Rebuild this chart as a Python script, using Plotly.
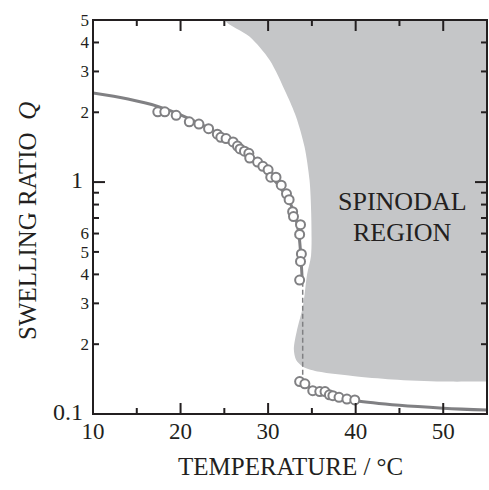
import plotly.graph_objects as go
import math

# ---- data ----
temp_swollen = [17.4, 18.2, 19.5, 21.0, 22.1, 23.2, 24.2, 24.6, 25.2, 26.0, 26.5, 26.8,
                27.3, 27.8, 27.9, 28.8, 29.4, 30.0, 30.3, 30.9, 31.5, 32.1, 32.4, 32.8,
                32.9, 33.7, 33.6, 33.8, 33.7, 33.6]
q_swollen = [2.01, 2.01, 1.94, 1.82, 1.78, 1.70, 1.61, 1.56, 1.54, 1.49, 1.43, 1.39,
             1.36, 1.33, 1.27, 1.22, 1.17, 1.13, 1.05, 1.05, 0.97, 0.89, 0.84, 0.745,
             0.71, 0.655, 0.595, 0.49, 0.455, 0.378]
temp_collapsed = [33.6, 34.2, 35.1, 35.9, 36.5, 37.0, 37.4, 38.1, 39.0, 39.9]
q_collapsed = [0.138, 0.135, 0.126, 0.125, 0.125, 0.121, 0.120, 0.118, 0.116, 0.115]

theory_temp_up = [10, 14, 17.4, 20, 22, 24, 26, 28, 29.5, 30.8, 31.8, 32.6, 33.2, 33.55, 33.75, 33.9]
theory_q_up = [2.42, 2.28, 2.12, 1.95, 1.80, 1.64, 1.47, 1.28, 1.14, 1.01, 0.90, 0.80, 0.69, 0.58, 0.47, 0.375]
theory_temp_low = [33.95, 35, 37, 40, 45, 50, 55]
theory_q_low = [0.138, 0.128, 0.120, 0.114, 0.109, 0.106, 0.104]
transition_temp = [33.95, 33.95]
transition_q = [0.372, 0.140]

spin_temp = [24.5, 25.0, 27.9, 30.17, 32.07, 33.2, 34.16, 34.73, 34.92, 34.9, 34.45,
             33.97, 33.3, 32.94, 33.2, 33.97, 35.87, 39.66, 44.2, 49.9, 55, 58, 58, 24]
spin_q = [6.0, 5.0, 4.23, 3.36, 2.41, 1.91, 1.42, 1.02, 0.735, 0.48, 0.40,
          0.29, 0.23, 0.19, 0.171, 0.160, 0.152, 0.146, 0.141, 0.138, 0.138, 0.138, 8, 8]

x_ticks = [10, 15, 20, 25, 30, 35, 40, 45, 50]
x_tick_text = ["10", "", "20", "", "30", "", "40", "", "50"]
x_major = [10, 20, 30, 40, 50]
y_ticks = [0.1, 0.2, 0.3, 0.4, 0.5, 0.6, 0.7, 0.8, 0.9, 1, 2, 3, 4, 5]
y_tick_text = ["0.1", "2", "3", "4", "5", "6", "", "", "", "1", "2", "3", "4", "5"]
y_big_labels = ["0.1", "1"]
y_major = [1]

SERIF = "Liberation Serif, Times New Roman, serif"
GRAY = "#808083"
FILL = "#c5c6c8"
INK = "#231f20"
PLOT_PX = 394.0  # plot area is 394 x 394 px


def y_label(t):
    if not t:
        return ""
    if t in y_big_labels:
        return f'<span style="font-size:24px">{t}&nbsp;</span>'
    return t


fig = go.Figure()
fig.add_trace(go.Scatter(x=spin_temp, y=spin_q, mode="lines", fill="toself",
                         fillcolor=FILL, line=dict(width=0, shape="spline", smoothing=0.8),
                         hoverinfo="skip", showlegend=False))
fig.add_trace(go.Scatter(x=theory_temp_up, y=theory_q_up, mode="lines",
                         line=dict(color=GRAY, width=3, shape="spline"), showlegend=False))
fig.add_trace(go.Scatter(x=theory_temp_low, y=theory_q_low, mode="lines",
                         line=dict(color=GRAY, width=3, shape="spline"), showlegend=False))
fig.add_trace(go.Scatter(x=transition_temp, y=transition_q, mode="lines",
                         line=dict(color=GRAY, width=1.5, dash="5px,3px"), showlegend=False))
marker = dict(symbol="circle", size=9, color="white", line=dict(color=GRAY, width=2))
fig.add_trace(go.Scatter(x=temp_swollen, y=q_swollen, mode="markers", marker=marker,
                         showlegend=False))
fig.add_trace(go.Scatter(x=temp_collapsed, y=q_collapsed, mode="markers", marker=marker,
                         showlegend=False))

# frame and inward ticks (all four sides) drawn as shapes on the axes' scales
tick_line = dict(color=INK, width=2)
shapes = [dict(type="rect", xref="paper", yref="paper", x0=0, x1=1, y0=0, y1=1,
               line=dict(color=INK, width=2), layer="above")]
for v in x_ticks:
    ln = (11 if v in x_major else 6) / PLOT_PX
    shapes.append(dict(type="line", xref="x", yref="paper", x0=v, x1=v, y0=0, y1=ln,
                       line=tick_line, layer="above"))
    shapes.append(dict(type="line", xref="x", yref="paper", x0=v, x1=v, y0=1, y1=1 - ln,
                       line=tick_line, layer="above"))
for v in y_ticks[1:]:
    ln = (12 if v in y_major else 6) / PLOT_PX
    shapes.append(dict(type="line", xref="paper", yref="y", x0=0, x1=ln, y0=v, y1=v,
                       line=tick_line, layer="above"))
    shapes.append(dict(type="line", xref="paper", yref="y", x0=1, x1=1 - ln, y0=v, y1=v,
                       line=tick_line, layer="above"))

yr = [-1, math.log10(5)]
fig.update_layout(
    width=489, height=490,
    margin=dict(l=93, r=2, t=20, b=76),
    paper_bgcolor="white", plot_bgcolor="white",
    font=dict(family=SERIF, color=INK),
    xaxis=dict(range=[10, 55], tickmode="array", tickvals=x_ticks, ticktext=x_tick_text,
               ticks="", showline=False, showgrid=False, zeroline=False,
               tickfont=dict(size=23, family=SERIF), ticklabelstandoff=1),
    yaxis=dict(type="log", range=yr, tickmode="array", tickvals=y_ticks,
               ticktext=[y_label(t) for t in y_tick_text],
               ticks="", showline=False, showgrid=False, zeroline=False,
               tickfont=dict(size=17, family=SERIF), ticklabelstandoff=3),
    shapes=shapes,
    annotations=[
        dict(text="SWELLING RATIO  <i>Q</i>", xref="paper", yref="paper",
             x=-0.165, y=0.49, xanchor="center", yanchor="middle", textangle=-90,
             showarrow=False, font=dict(size=25, family=SERIF, color=INK)),
        dict(text="TEMPERATURE / °C", xref="paper", yref="paper",
             x=0.5, y=-0.1345, xanchor="center", yanchor="middle",
             showarrow=False, font=dict(size=25, family=SERIF, color=INK)),
        dict(text="SPINODAL", x=45.3, y=math.log10(0.828), xref="x", yref="y",
             showarrow=False, font=dict(size=26, family=SERIF, color=INK)),
        dict(text="REGION", x=45.3, y=math.log10(0.609), xref="x", yref="y",
             showarrow=False, font=dict(size=26, family=SERIF, color=INK)),
    ],
)

fig.write_html("out.html", post_script="document.body.style.margin='0';",
               config={"displayModeBar": False})
